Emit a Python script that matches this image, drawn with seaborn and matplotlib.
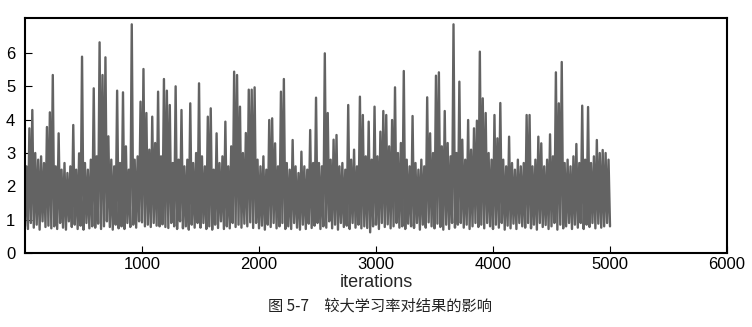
import numpy as np
import pandas as pd
import matplotlib
matplotlib.use("Agg")
import matplotlib.pyplot as plt
import seaborn as sns

loss = [
    0.8, 2.6, 0.72, 3.74, 0.9, 4.29, 0.76, 3.0, 0.85, 2.8, 0.7, 2.9, 0.95, 2.7, 0.78, 3.78, 0.82, 4.22, 0.74, 5.34,
    0.8, 2.6, 0.72, 3.59, 0.9, 2.5, 0.76, 2.7, 0.7, 2.4, 0.95, 2.6, 0.78, 3.84, 0.85, 2.5, 0.72, 2.99, 0.82, 5.89,
    0.7, 2.7, 0.9, 2.5, 0.74, 2.8, 0.8, 4.94, 0.76, 2.9, 0.88, 6.32, 0.72, 5.34, 0.8, 5.87, 0.95, 3.5, 0.78, 2.8,
    0.7, 2.6, 0.85, 4.87, 0.74, 2.7, 0.8, 4.82, 0.72, 3.2, 0.9, 2.5, 0.78, 6.86, 0.85, 2.8, 0.76, 2.9, 0.95, 4.54,
    0.92, 5.52, 0.8, 4.2, 0.85, 3.1, 0.78, 4.09, 0.9, 3.3, 0.82, 4.84, 0.8, 2.9, 0.86, 5.22, 0.78, 4.87, 0.75, 4.44,
    0.9, 2.7, 0.8, 5.0, 0.72, 2.8, 0.95, 4.29, 0.74, 2.6, 0.8, 2.8, 0.7, 4.49, 0.85, 2.7, 0.76, 3.0, 0.9, 5.09,
    0.76, 2.9, 0.9, 2.6, 0.72, 4.09, 0.8, 4.34, 0.7, 2.5, 0.85, 3.59, 0.75, 2.7, 0.95, 2.9, 0.72, 3.94, 0.8, 2.6,
    0.74, 3.2, 0.9, 5.44, 0.78, 5.34, 0.85, 4.39, 0.76, 3.0, 0.88, 3.6, 0.8, 4.9, 0.92, 4.9, 0.75, 4.97, 0.9, 2.8,
    0.74, 2.6, 0.82, 2.9, 0.7, 2.5, 0.85, 3.99, 0.78, 4.04, 0.9, 3.29, 0.74, 2.6, 0.8, 4.84, 0.9, 5.22, 0.72, 2.7,
    0.8, 2.5, 0.72, 3.39, 0.9, 2.6, 0.76, 2.4, 0.7, 3.04, 0.85, 2.6, 0.72, 2.5, 0.88, 3.69, 0.75, 2.7, 0.82, 4.66,
    0.9, 2.7, 0.72, 2.6, 0.8, 5.99, 0.76, 4.2, 0.95, 2.8, 0.74, 3.4, 0.85, 3.54, 0.7, 2.6, 0.9, 2.7, 0.78, 2.5,
    0.82, 4.44, 0.72, 2.8, 0.9, 3.1, 0.76, 2.6, 0.85, 4.69, 0.74, 4.14, 0.8, 2.9, 0.75, 3.94, 0.62, 2.8, 0.8, 4.39,
    0.85, 2.9, 0.72, 3.64, 0.9, 4.26, 0.78, 4.14, 0.86, 3.2, 0.74, 3.99, 0.8, 4.97, 0.9, 3.0, 0.76, 3.3, 0.8, 5.46,
    0.72, 2.8, 0.88, 2.6, 0.8, 4.11, 0.75, 2.7, 0.9, 2.5, 0.7, 2.8, 0.85, 2.6, 0.76, 4.67, 0.92, 3.59, 0.8, 3.0,
    0.74, 5.32, 0.88, 5.42, 0.78, 3.2, 0.7, 4.26, 0.85, 3.3, 0.72, 2.9, 0.9, 6.86, 0.76, 3.0, 0.85, 5.14, 0.9, 3.4,
    0.76, 2.8, 0.85, 3.99, 0.72, 3.1, 0.8, 3.74, 0.9, 3.97, 0.78, 6.04, 0.85, 4.64, 0.74, 4.2, 0.9, 3.0, 0.8, 2.8,
    0.72, 4.14, 0.85, 3.44, 0.76, 4.5, 0.9, 2.8, 0.7, 2.6, 0.82, 3.49, 0.74, 2.7, 0.88, 2.5, 0.72, 2.8, 0.9, 2.6,
    0.8, 2.7, 0.76, 4.14, 0.9, 4.14, 0.74, 2.6, 0.85, 2.8, 0.7, 3.49, 0.9, 3.29, 0.78, 2.6, 0.84, 2.8, 0.72, 3.56,
    0.8, 2.9, 0.9, 5.42, 0.7, 4.49, 0.85, 5.73, 0.74, 2.7, 0.8, 2.8, 0.9, 2.6, 0.72, 2.9, 0.85, 3.27, 0.76, 2.7,
    0.9, 4.42, 0.72, 2.8, 0.85, 4.38, 0.78, 2.7, 0.9, 2.9, 0.74, 3.39, 0.88, 3.0, 0.76, 3.09, 0.8, 3.0, 0.9, 2.8,
    0.8,
]
iterations = np.linspace(0, 5000, len(loss))

x_ticks = [1000, 2000, 3000, 4000, 5000, 6000]
y_ticks = [0, 1, 2, 3, 4, 5, 6]
x_label = "iterations"
caption = "图 5-7\u3000较大学习率对结果的影响"

sns.set_style("ticks")
plt.rcParams["font.family"] = ["Liberation Sans", "DejaVu Sans"]

fig = plt.figure(figsize=(7.52, 3.27), dpi=100)
ax = fig.add_axes([25 / 752, 1 - 253 / 327, 702 / 752, 235 / 327])

df = pd.DataFrame({"iterations": iterations, "loss": loss})
sns.lineplot(data=df, x="iterations", y="loss", ax=ax, color="#636363",
             linewidth=1.7, estimator=None, sort=False)

ax.set_xlim(0, 6000)
ax.set_ylim(0, 7.05)
ax.set_xticks(x_ticks)
ax.set_yticks(y_ticks)
ax.set_xticklabels([str(t) for t in x_ticks])
ax.set_yticklabels([str(t) for t in y_ticks])
ax.tick_params(axis="both", direction="in", length=5, width=0.8, labelsize=12,
               colors="black")
ax.tick_params(axis="x", pad=3)
ax.tick_params(axis="y", pad=7)
for s in ax.spines.values():
    s.set_linewidth(1.5)
    s.set_color("black")
ax.set_xlabel(x_label, fontsize=13, labelpad=1)
ax.set_ylabel("")

fig.text(380 / 752, 1 - 306 / 327, caption, ha="center", va="center",
         fontsize=11, family=["Noto Sans CJK SC", "DejaVu Sans"], color="#222222")

fig.savefig("out.png", dpi=100)
